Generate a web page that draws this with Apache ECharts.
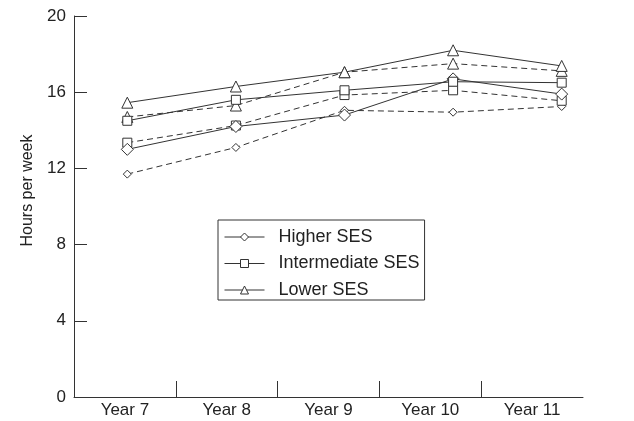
<!DOCTYPE html>
<html>
<head>
<meta charset="utf-8">
<style>
  html, body { margin: 0; padding: 0; background: #fff; }
  #chart { width: 634px; height: 421px; }
</style>
<script src="https://cdn.jsdelivr.net/npm/echarts@6/dist/echarts.min.js"></script>
</head>
<body>
<div id="chart"></div>
<script>
// School years on the horizontal axis
const years = ['Year 7', 'Year 8', 'Year 9', 'Year 10', 'Year 11'];
// Hours per week, two trajectories (solid / dashed) per SES group
const higherSolid = [13.0, 14.2, 14.8, 16.7, 15.9];
const higherDashed = [11.7, 13.1, 15.05, 14.95, 15.25];
const interSolid = [14.5, 15.6, 16.1, 16.55, 16.5];
const interDashed = [13.35, 14.25, 15.85, 16.1, 15.55];
const lowerSolid = [15.45, 16.3, 17.05, 18.2, 17.38];
const lowerDashed = [14.7, 15.3, 17.05, 17.5, 17.12];
const yTicks = [0, 4, 8, 12, 16, 20];

const FONT = 'Liberation Sans';
const INK = '#333';

function lineSeries(name, data, symbol, size, dashed) {
  return {
    name: name,
    type: 'line',
    xAxisIndex: 1,
    yAxisIndex: 1,
    data: data,
    symbol: symbol,
    symbolSize: size,
    showSymbol: true,
    animation: false,
    lineStyle: { color: INK, width: 1, type: dashed ? [6, 4] : 'solid' },
    itemStyle: { color: '#fff', borderColor: INK, borderWidth: 1 },
    emphasis: { disabled: true },
    z: dashed ? 2 : 3
  };
}

const chart = echarts.init(document.getElementById('chart'));
chart.setOption({
  backgroundColor: '#fff',
  animation: false,
  grid: [
    { left: 74, right: 51, top: 16, bottom: 24 },
    { left: 73, right: 18, top: 16, bottom: 24 }
  ],
  xAxis: [
    {
      gridIndex: 0,
      type: 'value',
      min: 0,
      max: years.length,
      interval: 1,
      splitLine: { show: false },
      axisLine: { show: true, lineStyle: { color: INK, width: 1 } },
      axisTick: {
        show: true, inside: true, length: 16,
        lineStyle: { color: INK },
        customValues: years.slice(1).map((_, i) => i + 1)
      },
      axisLabel: {
        show: true,
        margin: 5,
        color: '#222',
        fontFamily: FONT,
        fontSize: 17,
        customValues: years.map((_, i) => i + 0.5),
        formatter: v => years[Math.floor(v)] || ''
      }
    },
    {
      gridIndex: 1,
      type: 'category',
      data: years,
      boundaryGap: true,
      show: false
    }
  ],
  yAxis: [
    {
      gridIndex: 0,
      type: 'value',
      min: yTicks[0],
      max: yTicks[yTicks.length - 1],
      interval: 4,
      splitLine: { show: false },
      axisLine: { show: true, lineStyle: { color: INK, width: 1 } },
      axisTick: { show: true, inside: true, length: 13, lineStyle: { color: INK } },
      axisLabel: { color: '#222', fontFamily: FONT, fontSize: 17, margin: 8 },
      name: 'Hours per week',
      nameLocation: 'middle',
      nameGap: 38,
      nameTextStyle: { color: '#222', fontFamily: FONT, fontSize: 16, padding: [0, 0, 0, 32] }
    },
    {
      gridIndex: 1,
      type: 'value',
      min: yTicks[0],
      max: yTicks[yTicks.length - 1],
      show: false
    }
  ],
  legend: {
    orient: 'vertical',
    left: 218,
    top: 220,
    data: ['Higher SES', 'Intermediate SES', 'Lower SES'],
    itemWidth: 40,
    itemHeight: 10,
    itemGap: 8.5,
    padding: [8, 5, 1, 6],
    borderColor: INK,
    borderWidth: 1,
    backgroundColor: '#fff',
    selectedMode: false,
    lineStyle: { width: 1 },
    itemStyle: { borderWidth: 1 },
    textStyle: { color: '#222', fontFamily: FONT, fontSize: 18, padding: [0, 0, 0, 9] }
  },
  series: [
    lineSeries('Higher SES', higherSolid, 'diamond', 12, false),
    lineSeries('Intermediate SES', interSolid, 'rect', 9, false),
    lineSeries('Lower SES', lowerSolid, 'triangle', 11, false),
    lineSeries('Higher SES', higherDashed, 'diamond', 8, true),
    lineSeries('Intermediate SES', interDashed, 'rect', 9, true),
    lineSeries('Lower SES', lowerDashed, 'triangle', 11, true)
  ]
});
</script>
</body>
</html>
